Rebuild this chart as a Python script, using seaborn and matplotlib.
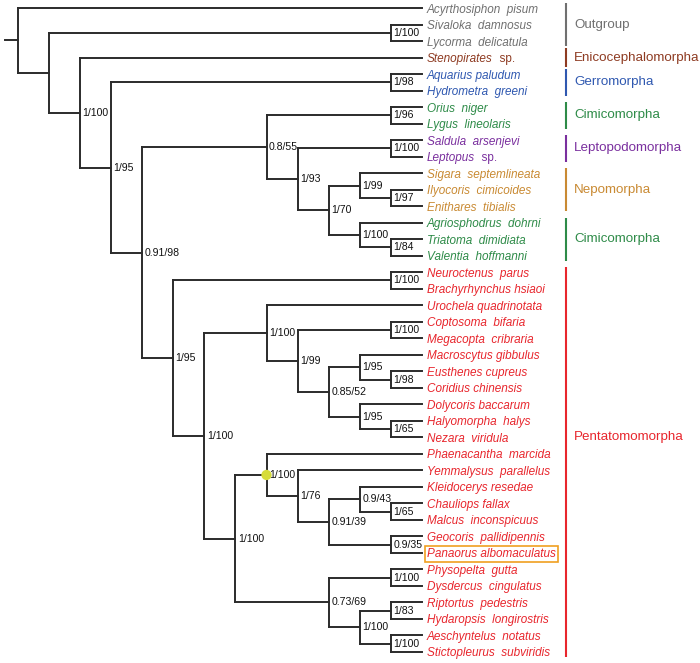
import numpy as np
import matplotlib
matplotlib.use("Agg")
import matplotlib.pyplot as plt
import seaborn as sns
from matplotlib.collections import LineCollection

sns.set_style("white")
plt.rcParams['font.family'] = ['Liberation Sans', 'DejaVu Sans']

# Tip names, top to bottom
taxa = [
    "Acyrthosiphon  pisum", "Sivaloka  damnosus", "Lycorma  delicatula",
    "Stenopirates", "Aquarius paludum", "Hydrometra  greeni",
    "Orius  niger", "Lygus  lineolaris", "Saldula  arsenjevi", "Leptopus",
    "Sigara  septemlineata", "Ilyocoris  cimicoides", "Enithares  tibialis",
    "Agriosphodrus  dohrni", "Triatoma  dimidiata", "Valentia  hoffmanni",
    "Neuroctenus  parus", "Brachyrhynchus hsiaoi", "Urochela quadrinotata",
    "Coptosoma  bifaria", "Megacopta  cribraria", "Macroscytus gibbulus",
    "Eusthenes cupreus", "Coridius chinensis", "Dolycoris baccarum",
    "Halyomorpha  halys", "Nezara  viridula", "Phaenacantha  marcida",
    "Yemmalysus  parallelus", "Kleidocerys resedae", "Chauliops fallax",
    "Malcus  inconspicuus", "Geocoris  pallidipennis", "Panaorus albomaculatus",
    "Physopelta  gutta", "Dysdercus  cingulatus", "Riptortus  pedestris",
    "Hydaropsis  longirostris", "Aeschyntelus  notatus", "Stictopleurus  subviridis",
]
sp_taxa = [3, 9]          # genus only, followed by upright "sp."
boxed_taxon = 33          # Panaorus albomaculatus

# Topology (tip numbers index into taxa), support as BI/ML; '*' marks the dotted node
newick = ("(0,((1,2)1/100,(3,((4,5)1/98,(((6,7)1/96,((8,9)1/100,((10,(11,12)1/97)1/99,"
          "(13,(14,15)1/84)1/100)1/70)1/93)0.8/55,((16,17)1/100,((18,((19,20)1/100,"
          "((21,(22,23)1/98)1/95,(24,(25,26)1/65)1/95)0.85/52)1/99)1/100,"
          "((27,(28,((29,(30,31)1/65)0.9/43,(32,33)0.9/35)0.91/39)1/76)*1/100,"
          "((34,35)1/100,((36,37)1/83,(38,39)1/100)1/100)0.73/69)1/100)1/100)1/95)"
          "0.91/98)1/95)1/100))")

# Groups: name, first tip, last tip, colour
group_names = ["Outgroup", "Enicocephalomorpha", "Gerromorpha", "Cimicomorpha",
               "Leptopodomorpha", "Nepomorpha", "Cimicomorpha", "Pentatomomorpha"]
group_first = [0, 3, 4, 6, 8, 10, 13, 16]
group_last = [2, 3, 5, 7, 9, 12, 15, 39]
group_colors = ["#707070", "#8e3b22", "#2f58b0", "#2e8b48", "#7a2f9e",
                "#c98a33", "#2e8b48", "#e8262d"]


def parse(s, i=0):
    if s[i] == "(":
        kids = []
        i += 1
        while True:
            k, i = parse(s, i)
            kids.append(k)
            if s[i] == ",":
                i += 1
            else:
                i += 1
                break
        j = i
        while j < len(s) and s[j] not in ",)":
            j += 1
        return {"kids": kids, "label": s[i:j]}, j
    j = i
    while s[j] not in ",)":
        j += 1
    return {"kids": [], "tip": int(s[i:j])}, j


tree, _ = parse(newick)
n_levels = 13


def layout(node):
    if not node["kids"]:
        node["h"] = 0
        node["y"] = node["tip"]
    else:
        for k in node["kids"]:
            layout(k)
        node["h"] = 1 + max(k["h"] for k in node["kids"])
        node["y"] = (node["kids"][0]["y"] + node["kids"][-1]["y"]) / 2
    node["x"] = n_levels - node["h"]


layout(tree)

fig = plt.figure(figsize=(7, 6.63), dpi=100)
ax = fig.add_axes([0, 0, 1, 1])
ax.set_xlim(-0.57, 21.94)
ax.set_ylim(39.67, -0.485)
ax.axis("off")

segs = []
dots = []
labels = []


def collect(node):
    if not node["kids"]:
        return
    ys = [k["y"] for k in node["kids"]]
    segs.append([(node["x"], min(ys)), (node["x"], max(ys))])
    for k in node["kids"]:
        segs.append([(node["x"], k["y"]), (k["x"], k["y"])])
        collect(k)
    lab = node.get("label", "")
    if lab.startswith("*"):
        lab = lab[1:]
        dots.append((node["x"], node["y"]))
    if lab:
        labels.append((node["x"], node["y"], lab))


collect(tree)
segs.append([(tree["x"] - 0.42, tree["y"]), (tree["x"], tree["y"])])

ax.add_collection(LineCollection(segs, colors="#2b2b2b", linewidths=1.4,
                                 capstyle="projecting"))

for x, y, lab in labels:
    ax.text(x + 0.08, y, lab, fontsize=7.6, va="center", ha="left", color="#111111")

if dots:
    dx, dy = zip(*dots)
    sns.scatterplot(x=list(dx), y=list(dy), s=55, color="#d6dc3a", edgecolor="none",
                    ax=ax, zorder=5, legend=False)

# tip colours from groups
tip_col = ["#333333"] * len(taxa)
for f, l, c in zip(group_first, group_last, group_colors):
    for t in range(f, l + 1):
        tip_col[t] = c

for i, name in enumerate(taxa):
    kw = {}
    if i == boxed_taxon:
        kw["bbox"] = dict(boxstyle="square,pad=0.18", fc="none", ec="#f0a020", lw=1.2)
    t = ax.text(n_levels + 0.16, i, name, fontsize=8.5, style="italic",
                va="center_baseline", ha="left", color=tip_col[i], **kw)
    if i in sp_taxa:
        ax.annotate("  sp.", xy=(1, 0), xycoords=t, fontsize=8.5,
                    va="bottom", ha="left", color=tip_col[i])

bar_x = 17.63
for name, f, l, c in zip(group_names, group_first, group_last, group_colors):
    pad = 0.55 if f == l else 0.3
    ax.plot([bar_x, bar_x], [f - pad, l + pad], color=c, lw=1.5, solid_capstyle="butt")
    ly = (f + l) / 2
    if name == "Pentatomomorpha":
        ly -= 1.5
    ax.text(bar_x + 0.26, ly, name, fontsize=9.6, color=c, va="center", ha="left")

fig.savefig("out.png", dpi=100)
